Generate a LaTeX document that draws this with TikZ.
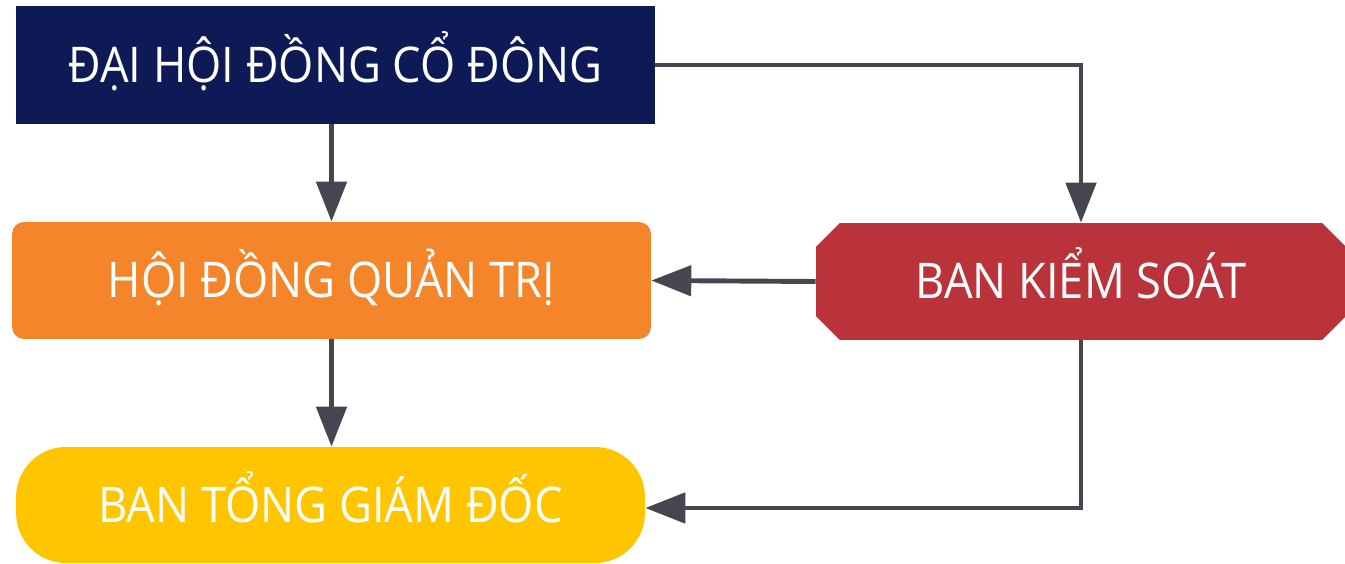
\documentclass[tikz,border=0pt]{standalone}
\usepackage{fontspec}
\setmainfont[FakeStretch=0.92]{Open Sans}
\usepackage{tikz}
\usetikzlibrary{shapes.misc,arrows.meta}

\definecolor{navy}{HTML}{0E1A55}
\definecolor{cam}{HTML}{F5852B}
\definecolor{do}{HTML}{BA333B}
\definecolor{vang}{HTML}{FFC600}
\definecolor{xam}{HTML}{45464F}

\begin{document}
\begin{tikzpicture}[x=0.02cm, y=-0.02cm,
  box/.style = {text=white, inner sep=0pt, text height=0.7cm, text depth=0pt, font=\fontsize{28}{34}\selectfont},
  arr/.style = {draw=xam, line width=2.8pt, -{Triangle[length=0.8cm, width=0.6cm]}}]
\useasboundingbox (0,0) rectangle (1345,564);

\node [box, fill=navy, minimum width=12.78cm, minimum height=2.36cm] (DH) at (335.5, 65) {ĐẠI HỘI ĐỒNG CỔ ĐÔNG};
\node [box, fill=cam, rounded corners=0.24cm, minimum width=12.78cm, minimum height=2.34cm] (HD) at (331.5, 280.5) {HỘI ĐỒNG QUẢN TRỊ};
\node [box, fill=do, chamfered rectangle, chamfered rectangle xsep=0.52cm, minimum width=10.6cm, minimum height=2.34cm] (BKS) at (1081, 281.5) {BAN KIỂM SOÁT};
\node [box, fill=vang, rounded corners=1cm, minimum width=12.58cm, minimum height=2.32cm] (BGD) at (330.5, 505) {BAN TỔNG GIÁM ĐỐC};
\coordinate (BGDin) at (BGD.east |- 0,508);

\draw[arr] (DH.south -| HD) -- (HD.north);
\draw[arr] (DH.east) -| (BKS.north);
\draw[arr] (BKS.west) -- (HD.east);
\draw[arr] (HD.south) -- (BGD.north -| HD);
\draw[arr] (BKS.south) |- (BGDin);
\end{tikzpicture}
\end{document}
